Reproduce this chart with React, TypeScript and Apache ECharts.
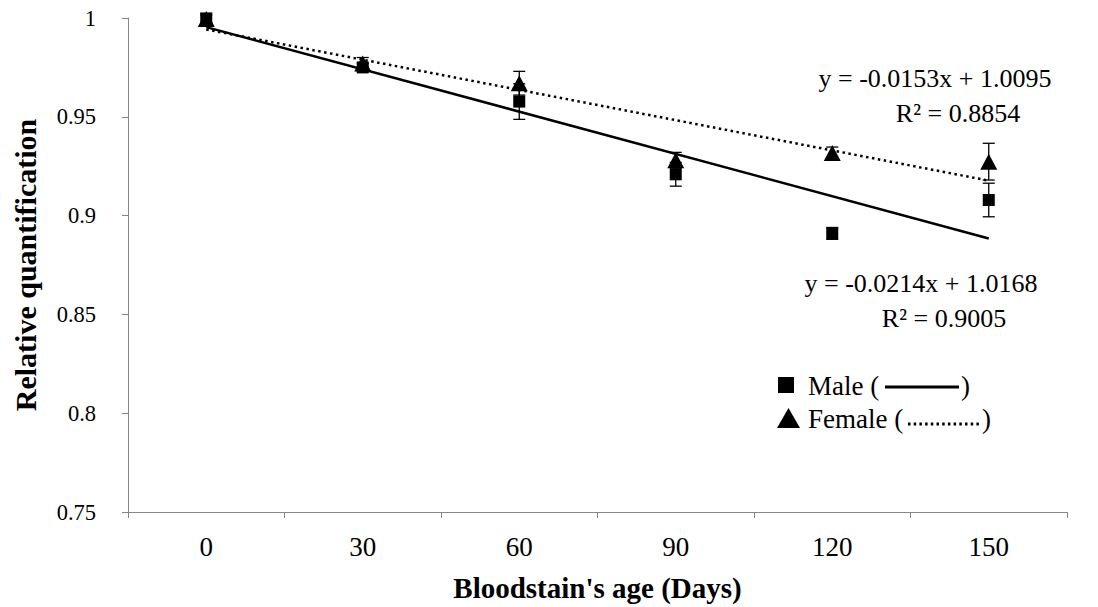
import React, { useEffect, useRef } from "react";
import * as echarts from "echarts";

const categories = ["0", "30", "60", "90", "120", "150"];
const maleValues = [0.9995, 0.975, 0.9577, 0.9209, 0.891, 0.9079];
const maleErrors = [0.002, 0.002, 0.009, 0.006, 0.003, 0.0085];
const femaleValues = [0.9995, 0.977, 0.967, 0.928, 0.9317, 0.9273];
const femaleErrors = [0.003, 0.003, 0.006, 0.004, 0.003, 0.0093];
// trend line end points (at day 0 and day 150), from the fitted equations
const maleTrend = [0.9954, 0.8884];
const femaleTrend = [0.9942, 0.9177];
const yTicks = { min: 0.75, max: 1, interval: 0.05 };
const maleEquation = "y = -0.0214x + 1.0168";
const maleR2 = "R\u00B2 = 0.9005";
const femaleEquation = "y = -0.0153x + 1.0095";
const femaleR2 = "R\u00B2 = 0.8854";

const FONT = "Liberation Serif";

export default function App() {
  const ref = useRef<HTMLDivElement>(null);
  useEffect(() => {
    if (!ref.current) return;
    const chart = echarts.init(ref.current, null, { renderer: "svg" });
    const errData = (vals: number[], errs: number[]) =>
      vals.map((v, i) => [i, v - errs[i], v + errs[i]]);
    const errSeries = (name: string, vals: number[], errs: number[]) => ({
      type: "custom",
      name,
      z: 3,
      data: errData(vals, errs),
      renderItem: (params: any, api: any) => {
        const x = api.value(0);
        const lo = api.coord([x, api.value(1)]);
        const hi = api.coord([x, api.value(2)]);
        const w = 6;
        const style = { stroke: "#000", lineWidth: 1.3 };
        return {
          type: "group",
          children: [
            { type: "line", shape: { x1: lo[0], y1: lo[1], x2: hi[0], y2: hi[1] }, style },
            { type: "line", shape: { x1: lo[0] - w, y1: lo[1], x2: lo[0] + w, y2: lo[1] }, style },
            { type: "line", shape: { x1: hi[0] - w, y1: hi[1], x2: hi[0] + w, y2: hi[1] }, style },
          ],
        };
      },
    });
    const eqStyle = { fontFamily: FONT, fontSize: 26, fill: "#000", align: "center", verticalAlign: "middle" };
    const legStyle = { fontFamily: FONT, fontSize: 27, fill: "#000", verticalAlign: "middle" };
    chart.setOption({
      animation: false,
      textStyle: { fontFamily: FONT },
      grid: { left: 128, top: 18, width: 939, height: 494, containLabel: false },
      xAxis: {
        type: "category",
        data: categories,
        boundaryGap: true,
        name: "Bloodstain's age (Days)",
        nameLocation: "middle",
        nameGap: 61,
        nameTextStyle: { fontFamily: FONT, fontSize: 29, fontWeight: "bold", color: "#000" },
        axisLine: { lineStyle: { color: "#868686", width: 1 } },
        axisTick: { show: true, length: 6, alignWithLabel: false, lineStyle: { color: "#868686" } },
        axisLabel: { fontFamily: FONT, fontSize: 27, color: "#000", margin: 21 },
        splitLine: { show: false },
      },
      yAxis: {
        type: "value",
        min: yTicks.min,
        max: yTicks.max,
        interval: yTicks.interval,
        name: "Relative quantification",
        nameLocation: "middle",
        nameRotate: 90,
        nameGap: 88,
        nameTextStyle: { fontFamily: FONT, fontSize: 30, fontWeight: "bold", color: "#000" },
        axisLine: { show: true, lineStyle: { color: "#868686", width: 1 } },
        axisTick: { show: true, length: 6, lineStyle: { color: "#868686" } },
        axisLabel: {
          fontFamily: FONT,
          fontSize: 22.5,
          color: "#000",
          margin: 32,
          formatter: (v: number) => String(parseFloat(v.toFixed(2))),
        },
        splitLine: { show: false },
      },
      series: [
        {
          type: "line",
          name: "Male trend",
          data: [
            [0, maleTrend[0]],
            [categories.length - 1, maleTrend[1]],
          ],
          symbol: "none",
          lineStyle: { color: "#000", width: 2.5, type: "solid" },
          z: 2,
        },
        {
          type: "line",
          name: "Female trend",
          data: [
            [0, femaleTrend[0]],
            [categories.length - 1, femaleTrend[1]],
          ],
          symbol: "none",
          lineStyle: { color: "#000", width: 2.5, type: [2.5, 3.5] },
          z: 2,
        },
        errSeries("Male err", maleValues, maleErrors),
        errSeries("Female err", femaleValues, femaleErrors),
        {
          type: "scatter",
          name: "Male",
          data: maleValues.map((v, i) => [i, v]),
          symbol: "rect",
          symbolSize: 12,
          itemStyle: { color: "#000", opacity: 1 },
          z: 4,
        },
        {
          type: "scatter",
          name: "Female",
          data: femaleValues.map((v, i) => [i, v]),
          symbol: "triangle",
          symbolSize: [17, 16],
          itemStyle: { color: "#000", opacity: 1 },
          z: 4,
        },
      ],
      graphic: [
        { type: "text", x: 935, y: 78, style: { ...eqStyle, text: femaleEquation } },
        { type: "text", x: 958, y: 113, style: { ...eqStyle, text: femaleR2 } },
        { type: "text", x: 921, y: 283, style: { ...eqStyle, text: maleEquation } },
        { type: "text", x: 944, y: 318, style: { ...eqStyle, text: maleR2 } },
        // legend
        { type: "rect", shape: { x: 778, y: 377, width: 16, height: 16 }, style: { fill: "#000" } },
        { type: "text", x: 808, y: 386, style: { ...legStyle, text: "Male (" } },
        { type: "line", shape: { x1: 885, y1: 387, x2: 959, y2: 387 }, style: { stroke: "#000", lineWidth: 3.2 } },
        { type: "text", x: 961, y: 386, style: { ...legStyle, text: ")" } },
        { type: "polygon", shape: { points: [[788.5, 408], [777, 428], [800, 428]] }, style: { fill: "#000" } },
        { type: "text", x: 808, y: 419, style: { ...legStyle, text: "Female (" } },
        { type: "line", shape: { x1: 908, y1: 424, x2: 981, y2: 424 }, style: { stroke: "#000", lineWidth: 3, lineDash: [2.5, 3.2] } },
        { type: "text", x: 982, y: 419, style: { ...legStyle, text: ")" } },
      ],
    });
    return () => chart.dispose();
  }, []);
  return (
    <div
      ref={ref}
      style={{ position: "absolute", left: 0, top: 0, width: 1098, height: 607, background: "#fff" }}
    />
  );
}
